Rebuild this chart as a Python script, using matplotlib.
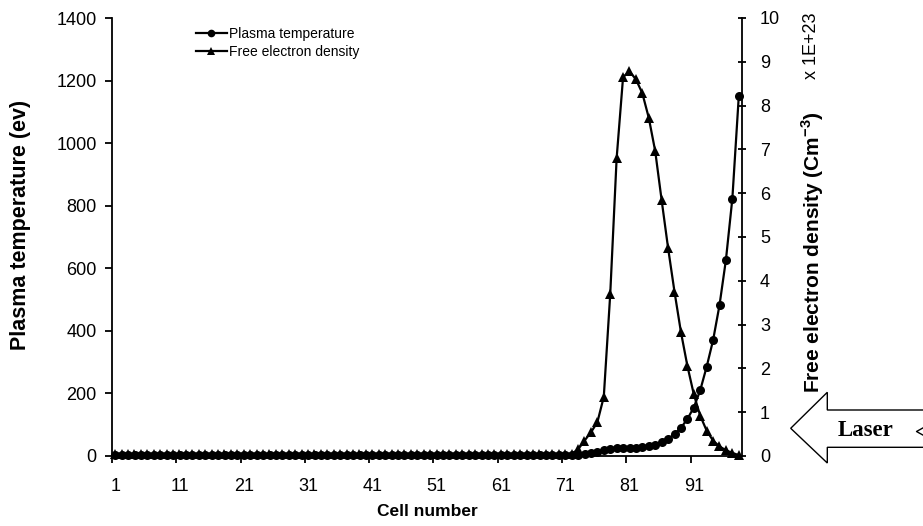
import numpy as np
import matplotlib
matplotlib.use("Agg")
import matplotlib.pyplot as plt
from matplotlib.patches import Polygon
from matplotlib.lines import Line2D

plt.rcParams['font.family'] = ['Liberation Sans', 'DejaVu Sans']
plt.rcParams['mathtext.fontset'] = 'custom'
plt.rcParams['mathtext.bf'] = 'Liberation Sans:bold'
plt.rcParams['mathtext.rm'] = 'Liberation Sans'

# ---------------- data ----------------
cells = list(range(1, 99))
tick_labels = ['1', '11', '21', '31', '41', '51', '61', '71', '81', '91']

plasma_temperature = [
    2, 2, 2, 2, 2, 2, 2, 2, 2, 2,
    2, 2, 2, 2, 2, 2, 2, 2, 2, 2,
    2, 2, 2, 2, 2, 2, 2, 2, 2, 2,
    2, 2, 2, 2, 2, 2, 2, 2, 2, 2,
    2, 2, 2, 2, 2, 2, 2, 2, 2, 2,
    2, 2, 2, 2, 2, 2, 2, 2, 2, 2,
    2, 2, 2, 2, 2, 2, 2, 2, 2, 2,
    2, 2,
    3, 5, 8, 13, 18, 22, 24, 25, 26, 27,
    29, 32, 36, 44, 54, 70, 90, 118, 155, 210,
    285, 370, 482, 627, 823, 1150,
]

electron_density = [
    0.05, 0.05, 0.05, 0.05, 0.05, 0.05, 0.05, 0.05, 0.05, 0.05,
    0.05, 0.05, 0.05, 0.05, 0.05, 0.05, 0.05, 0.05, 0.05, 0.05,
    0.05, 0.05, 0.05, 0.05, 0.05, 0.05, 0.05, 0.05, 0.05, 0.05,
    0.05, 0.05, 0.05, 0.05, 0.05, 0.05, 0.05, 0.05, 0.05, 0.05,
    0.05, 0.05, 0.05, 0.05, 0.05, 0.05, 0.05, 0.05, 0.05, 0.05,
    0.05, 0.05, 0.05, 0.05, 0.05, 0.05, 0.05, 0.05, 0.05, 0.05,
    0.05, 0.05, 0.05, 0.05, 0.05, 0.05, 0.05, 0.05, 0.05, 0.05,
    0.05, 0.05,
    0.15, 0.35, 0.54, 0.77, 1.35, 3.69, 6.80, 8.65, 8.78, 8.60,
    8.28, 7.72, 6.96, 5.84, 4.75, 3.75, 2.83, 2.06, 1.41, 0.92,
    0.58, 0.35, 0.22, 0.13, 0.07, 0.02,
]

# ---------------- figure ----------------
W, H = 923, 526
fig = plt.figure(figsize=(W / 100, H / 100), dpi=100)

L, R, T, B = 112, 742, 18, 456
ax = fig.add_axes([L / W, 1 - B / H, (R - L) / W, (B - T) / H])
ax2 = ax.twinx()

lw = 1.6
ax.plot(cells, plasma_temperature, color='black', lw=lw, marker='o',
        markersize=6.5, markeredgewidth=0, zorder=3, clip_on=False)
ax2.plot(cells, electron_density, color='black', lw=lw, marker='^',
         markersize=7.5, markeredgewidth=0, zorder=3, clip_on=False)

ax.set_xlim(0.5, len(cells) + 0.5)
ax.set_ylim(0, 1400)
ax2.set_ylim(0, 10)

# x axis: tick marks between categories, labels centred on categories
tick_cells = [int(t) for t in tick_labels]
ax.set_xticks([c - 0.5 for c in tick_cells])
ax.set_xticklabels([])
ax.set_xticks(tick_cells, minor=True)
ax.set_xticklabels(tick_labels, minor=True)
ax.tick_params(axis='x', which='major', direction='out', length=5, width=1.3)
ax.tick_params(axis='x', which='minor', length=0, pad=16, labelsize=13)

ax.set_yticks(np.arange(0, 1401, 200))
ax.tick_params(axis='y', direction='out', length=5, width=1.3, pad=6,
               labelsize=13)

ax2.set_yticks(np.arange(0, 11, 1))
ax2.tick_params(axis='y', direction='inout', length=6, width=1.3, pad=10,
                labelsize=13)

for a in (ax, ax2):
    a.spines['top'].set_visible(False)
    for s in ('left', 'right', 'bottom'):
        a.spines[s].set_linewidth(1.3)
ax.spines['right'].set_visible(False)
ax2.spines['left'].set_visible(False)
ax2.spines['bottom'].set_visible(False)
ax.set_zorder(ax2.get_zorder() + 1)
ax.patch.set_visible(False)


def fx(x):
    return x / W


def fy(y):
    return 1 - y / H


# axis titles
fig.text(fx(21), fy(225), 'Plasma temperature (ev)', rotation=90,
         ha='center', va='center', fontsize=15.5, fontweight='bold')
fig.text(fx(427), fy(511), 'Cell number', ha='center', va='center',
         fontsize=12.5, fontweight='bold')
fig.text(fx(813), fy(252), r'Free electron density (Cm$^{\mathbf{-3}}$)',
         rotation=90, ha='center', va='center', fontsize=15,
         fontweight='bold')
fig.text(fx(812), fy(46), 'x 1E+23', rotation=90, ha='center', va='center',
         fontsize=13)

# legend
handles = [
    Line2D([], [], color='black', lw=lw, marker='o', markersize=5.5,
           markeredgewidth=0),
    Line2D([], [], color='black', lw=lw, marker='^', markersize=6,
           markeredgewidth=0),
]
fig.legend(handles, ['Plasma temperature', 'Free electron density'],
           loc='upper left', bbox_to_anchor=(fx(196), fy(27)),
           frameon=False, fontsize=10, handlelength=2.2, handletextpad=0.2,
           labelspacing=0.3, borderpad=0, borderaxespad=0)

# laser arrow (hollow block arrow pointing left)
arrow_pts = [(790.7, 428.3), (827.3, 392.3), (827.3, 410), (930, 410),
             (930, 447.3), (827.3, 447.3), (827.3, 463)]
fig.patches.append(Polygon([(fx(x), fy(y)) for x, y in arrow_pts],
                           closed=True, facecolor='white', edgecolor='black',
                           lw=1.0, transform=fig.transFigure, figure=fig))
second_head = [(930, 424), (916.5, 431.5), (930, 439)]
fig.lines.append(Line2D([fx(x) for x, _ in second_head],
                        [fy(y) for _, y in second_head], color='black',
                        lw=1.0, transform=fig.transFigure, figure=fig))
fig.text(fx(866), fy(431), 'Laser', ha='center', va='center',
         fontsize=16.5, fontweight='bold',
         family=['Liberation Serif', 'DejaVu Serif'])

fig.savefig('out.png', dpi=100)
